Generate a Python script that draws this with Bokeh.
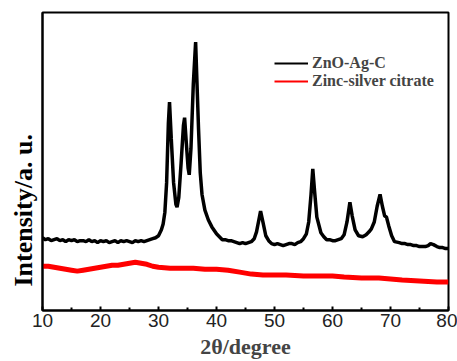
from bokeh.plotting import figure
from bokeh.models import FixedTicker, Legend, LegendItem, Range1d, Title
from bokeh.embed import file_html
from bokeh.resources import INLINE

# ZnO-Ag-C XRD pattern (2theta, intensity in arbitrary units)
zno_x = [10, 10.5, 11, 11.5, 12, 12.5, 13, 13.5, 14, 14.5, 15, 15.5, 16, 16.5, 17, 17.5, 18, 18.5,
         19, 19.5, 20, 20.5, 21, 21.5, 22, 22.5, 23, 23.5, 24, 24.5, 25, 25.5, 26, 26.5, 27, 27.5,
         28, 28.5, 29, 29.5, 30, 30.5, 30.8, 31.1, 31.4, 31.7, 31.9, 32.2, 32.6, 33.0, 33.2, 33.5,
         33.9, 34.3, 34.5, 34.8, 35.1, 35.3, 35.6, 36.0, 36.4, 36.7, 36.9, 37.2, 37.5, 38.0, 38.6,
         39.2, 40, 40.5, 41, 41.5, 42, 42.5, 43, 43.5, 44, 44.5, 45, 45.5, 46, 46.5, 46.9, 47.3,
         47.6, 48.0, 48.5, 49, 49.5, 50, 50.5, 51, 51.5, 52, 52.5, 53, 53.5, 54, 54.5, 55, 55.5,
         55.9, 56.3, 56.6, 56.9, 57.3, 58, 58.5, 59, 59.5, 60, 60.5, 61, 61.5, 62, 62.5, 63.0, 63.4,
         63.9, 64.5, 65.2, 65.8, 66.3, 66.7, 67.2, 67.7, 68.2, 68.6, 69.0, 69.3, 69.7, 70.2, 70.7,
         71.5, 72, 72.5, 73, 73.5, 74, 74.5, 75, 75.5, 76, 76.5, 76.9, 77.4, 78, 78.5, 79, 79.5, 80]
zno_y = [74, 72, 73, 71, 72, 73, 71, 72, 70, 72, 71, 72, 70, 71, 71, 70, 72, 70,
         71, 69, 71, 70, 71, 69, 70, 71, 69, 71, 70, 71, 70, 69, 71, 70, 71, 70,
         71, 72, 73, 74, 76, 82, 88, 100, 130, 190, 212, 175, 130, 108, 105, 115,
         150, 188, 196, 170, 145, 138, 165, 230, 273, 220, 185, 140, 118, 102, 92,
         85, 78, 75, 72, 72, 71, 71, 70, 69, 68, 69, 68, 69, 70, 73, 80, 92,
         101, 90, 76, 71, 68, 67, 68, 67, 66, 67, 68, 68, 67, 69, 70, 73, 78,
         90, 118, 144, 122, 95, 79, 75, 72, 72, 71, 71, 72, 73, 77, 90, 110, 96,
         82, 76, 75, 77, 80, 83, 90, 106, 118, 106, 96, 95, 86, 76, 70,
         69, 68, 68, 67, 67, 66, 66, 65, 65, 65, 66, 68, 67, 65, 64, 64, 63, 63]

# Zinc-silver citrate XRD pattern
cit_x = [10, 11, 12, 13, 14, 15, 16, 17, 18, 19, 20, 21, 22, 23, 24, 25, 26, 27, 28, 29, 30,
         32, 34, 36, 38, 40, 42, 44, 46, 48, 50, 52, 55, 58, 60, 62, 65, 68, 70, 72, 75, 78, 80]
cit_y = [45, 45, 44, 43, 42, 41, 40, 41, 42, 43, 44, 45, 46, 46, 47, 48, 49, 48, 47, 45, 44,
         43, 43, 43, 42, 42, 41, 39, 37, 36, 36, 36, 35, 35, 35, 34, 33, 33, 32, 31, 30, 29, 29]

series_names = ["ZnO-Ag-C", "Zinc-silver citrate"]
x_ticks = [10, 20, 30, 40, 50, 60, 70, 80]
x_minor = [15, 25, 35, 45, 55, 65, 75]

p = figure(width=457, height=361, output_backend="svg", toolbar_location=None,
           x_range=Range1d(10, 80), y_range=Range1d(0, 303),
           min_border_left=42, min_border_right=9, min_border_top=12, min_border_bottom=46)

r1 = p.line(zno_x, zno_y, line_color="black", line_width=3.5)
r2 = p.line(cit_x, cit_y, line_color="#ff0000", line_width=5)
# thin proxy lines for the legend (kept outside the visible range)
l1 = p.line([-50, -40], [-50, -50], line_color="black", line_width=2)
l2 = p.line([-50, -40], [-50, -50], line_color="#ff0000", line_width=2)

p.grid.visible = False
p.outline_line_color = "black"
p.outline_line_width = 2
p.background_fill_color = "white"
p.border_fill_color = "white"

xa = p.xaxis[0]
xa.ticker = FixedTicker(ticks=x_ticks, minor_ticks=x_minor)
xa.major_tick_in = 4
xa.major_tick_out = 0
xa.minor_tick_in = 3
xa.minor_tick_out = 0
xa.axis_line_width = 2
xa.major_tick_line_width = 2
xa.minor_tick_line_width = 2
xa.major_label_text_font = "Liberation Sans"
xa.major_label_text_font_size = "19px"
xa.major_label_text_color = "#222222"
xa.major_label_standoff = 3
xa.axis_label = "2θ/degree"
xa.axis_label_text_font = "Liberation Serif"
xa.axis_label_text_font_style = "bold"
xa.axis_label_text_font_size = "22px"
xa.axis_label_standoff = 4

ya = p.yaxis[0]
ya.ticker = FixedTicker(ticks=[])
ya.major_tick_line_color = None
ya.minor_tick_line_color = None
ya.major_label_text_font_size = "0px"
ya.major_label_standoff = 0
ya.axis_line_width = 2

ytitle = Title(text="Intensity/a. u.", align="left", offset=24,
               text_font="Liberation Serif", text_font_style="bold", text_font_size="26px",
               text_color="black", standoff=10)
p.add_layout(ytitle, "left")

legend = Legend(items=[LegendItem(label=series_names[0], renderers=[l1]),
                       LegendItem(label=series_names[1], renderers=[l2])],
                location=(232, 220))
legend.border_line_color = None
legend.background_fill_alpha = 0
legend.padding = 0
legend.margin = 0
legend.spacing = 0
legend.glyph_width = 34
legend.glyph_height = 16
legend.label_height = 16
legend.label_standoff = 4
legend.label_text_font = "Liberation Serif"
legend.label_text_font_style = "bold"
legend.label_text_font_size = "16px"
p.add_layout(legend)

open("out.html", "w").write(file_html(p, INLINE))
